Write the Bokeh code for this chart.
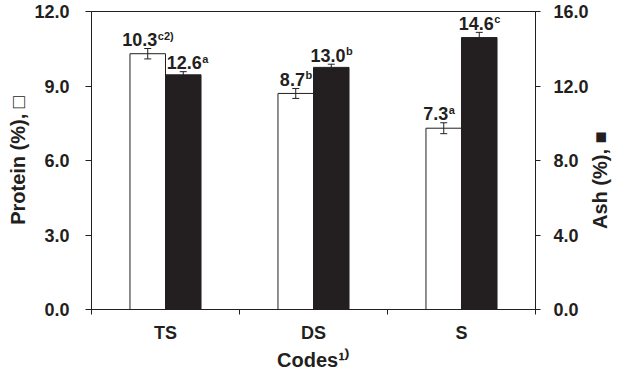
import math
from bokeh.plotting import figure
from bokeh.models import (ColumnDataSource, FactorRange, Range1d, LinearAxis, FixedTicker,
                          PrintfTickFormatter, Whisker, TeeHead)
from bokeh.transform import dodge
from bokeh.core.properties import value
from bokeh.embed import file_html
from bokeh.resources import INLINE

# ---- data ----
codes = ["TS", "DS", "S"]
protein = [10.3, 8.7, 7.3]
protein_err = [0.21, 0.20, 0.22]
protein_sig = ["c2)", "b", "a"]
ash = [12.6, 13.0, 14.6]
ash_err = [0.17, 0.17, 0.28]
ash_sig = ["a", "b", "c"]
protein_ticks = [0, 3, 6, 9, 12]
ash_ticks = [0, 4, 8, 12, 16]

# ---- style ----
DARK = "#231f20"
FONT = "Liberation Sans"
MAIN_PX = 18
SUP_PX = 11
BAR_W = 0.24
LABEL_GAP = 9
SUP_RAISE = 4
protein_dx = [0, 0, -5]
ash_dx = [4, 0, 0]
ASH_TITLE_START = 0.27   # fraction of the frame height where the right title begins

WID = {ch: 0.556 for ch in "0123456789abc"}
WID.update({".": 0.278, ")": 0.333, "b": 0.611})


def tw(s, px):
    return sum(WID.get(ch, 0.556) for ch in s) * px


p_lab = [f"{v:.1f}" for v in protein]
a_lab = [f"{v:.1f}" for v in ash]
p_off = [(tw(m, MAIN_PX) - tw(s, SUP_PX)) / 2 + d for m, s, d in zip(p_lab, protein_sig, protein_dx)]
a_off = [(tw(m, MAIN_PX) - tw(s, SUP_PX)) / 2 + d for m, s, d in zip(a_lab, ash_sig, ash_dx)]

src = ColumnDataSource(dict(
    codes=codes,
    protein=protein,
    p_lo=[v - e for v, e in zip(protein, protein_err)],
    p_hi=[v + e for v, e in zip(protein, protein_err)],
    ash=ash,
    a_lo=[v - e for v, e in zip(ash, ash_err)],
    a_hi=[v + e for v, e in zip(ash, ash_err)],
    p_lab=p_lab, p_sup=protein_sig, p_off=p_off, p_soff=[o + 0.5 for o in p_off],
    a_lab=a_lab, a_sup=ash_sig, a_off=a_off, a_soff=[o + 0.5 for o in a_off],
))

p = figure(width=625, height=373,
           x_range=FactorRange(*codes), y_range=Range1d(protein_ticks[0], protein_ticks[-1]),
           x_axis_type=None, output_backend="svg", toolbar_location=None,
           min_border_left=91, min_border_right=88, min_border_top=11, min_border_bottom=58)
p.extra_y_ranges = {"ash": Range1d(ash_ticks[0], ash_ticks[-1])}
p.xgrid.grid_line_color = None
p.ygrid.grid_line_color = None
p.outline_line_color = DARK
p.outline_line_width = 1
p.background_fill_color = "white"
p.border_fill_color = "white"


def style_axis(ax):
    ax.axis_line_color = DARK
    ax.axis_line_width = 1
    ax.major_tick_line_color = DARK
    ax.major_tick_line_width = 1
    ax.major_tick_in = 0
    ax.minor_tick_line_color = None
    ax.major_label_text_font = FONT
    ax.major_label_text_font_size = f"{MAIN_PX}px"
    ax.major_label_text_font_style = "bold"
    ax.major_label_text_color = DARK
    ax.axis_label_text_font = FONT
    ax.axis_label_text_font_size = "20px"
    ax.axis_label_text_font_style = "bold"
    ax.axis_label_text_color = DARK


# left axis
ly = p.yaxis[0]
ly.ticker = FixedTicker(ticks=protein_ticks)
ly.formatter = PrintfTickFormatter(format="%.1f")
style_axis(ly)
ly.major_tick_out = 6
ly.major_label_standoff = 16
ly.axis_label = "Protein (%), \u25a1"
ly.axis_label_standoff = 2

# right axis
ry = LinearAxis(y_range_name="ash", ticker=FixedTicker(ticks=ash_ticks),
                formatter=PrintfTickFormatter(format="%.1f"))
style_axis(ry)
ry.major_tick_out = 5
ry.major_label_standoff = 13
p.add_layout(ry, "right")

# right title: a bare outer axis whose single label reads bottom-to-top
title_pos = ash_ticks[0] + ASH_TITLE_START * (ash_ticks[-1] - ash_ticks[0])
rt = LinearAxis(y_range_name="ash", ticker=FixedTicker(ticks=[title_pos]),
                major_label_overrides={title_pos: "Ash (%), \u25a0"})
style_axis(rt)
rt.axis_line_color = None
rt.major_tick_line_color = None
rt.major_tick_out = 0
rt.major_label_standoff = 9
rt.major_label_orientation = math.pi / 2
rt.major_label_text_font_size = "20px"
p.add_layout(rt, "right")

# bottom axis: labels at category centres, tick marks at category boundaries
centres = [i + 0.5 for i in range(len(codes))]
bounds = list(range(len(codes) + 1))
bx = LinearAxis(ticker=FixedTicker(ticks=centres, minor_ticks=bounds),
                major_label_overrides={c: k for c, k in zip(centres, codes)})
style_axis(bx)
bx.major_tick_line_color = None
bx.major_tick_out = 5
bx.minor_tick_line_color = DARK
bx.minor_tick_out = 5
bx.minor_tick_in = 0
bx.major_label_standoff = 8
bx.axis_label = "Codes\u00b9\u207e"
bx.axis_label_standoff = 3
p.add_layout(bx, "below")

# bars
p.vbar(x=dodge("codes", -BAR_W / 2, range=p.x_range), top="protein", width=BAR_W,
       fill_color="white", line_color=DARK, line_width=1, source=src)
p.vbar(x=dodge("codes", BAR_W / 2, range=p.x_range), top="ash", width=BAR_W,
       fill_color=DARK, line_color=DARK, line_width=1, y_range_name="ash", source=src)

# error bars
for xo, lo, hi, rn in [(-BAR_W / 2, "p_lo", "p_hi", "default"), (BAR_W / 2, "a_lo", "a_hi", "ash")]:
    w = Whisker(base=dodge("codes", xo, range=p.x_range), lower=lo, upper=hi, source=src,
                line_color=DARK, line_width=1, level="overlay",
                upper_head=TeeHead(size=7, line_color=DARK, line_width=1),
                lower_head=TeeHead(size=7, line_color=DARK, line_width=1))
    if rn != "default":
        w.y_range_name = rn
    p.add_layout(w)

# value labels with superscripts
common = dict(text_font=value(FONT), text_font_style="bold", text_color=DARK,
              text_baseline="alphabetic", source=src)
p.text(x=dodge("codes", -BAR_W / 2, range=p.x_range), y="p_hi", text="p_lab", x_offset="p_off",
       y_offset=-LABEL_GAP, text_align="right", text_font_size=f"{MAIN_PX}px", **common)
p.text(x=dodge("codes", -BAR_W / 2, range=p.x_range), y="p_hi", text="p_sup", x_offset="p_soff",
       y_offset=-(LABEL_GAP + SUP_RAISE), text_align="left", text_font_size=f"{SUP_PX}px", **common)
p.text(x=dodge("codes", BAR_W / 2, range=p.x_range), y="a_hi", text="a_lab", x_offset="a_off",
       y_offset=-LABEL_GAP, text_align="right", text_font_size=f"{MAIN_PX}px",
       y_range_name="ash", **common)
p.text(x=dodge("codes", BAR_W / 2, range=p.x_range), y="a_hi", text="a_sup", x_offset="a_soff",
       y_offset=-(LABEL_GAP + SUP_RAISE), text_align="left", text_font_size=f"{SUP_PX}px",
       y_range_name="ash", **common)

open("out.html", "w").write(file_html(p, INLINE))
